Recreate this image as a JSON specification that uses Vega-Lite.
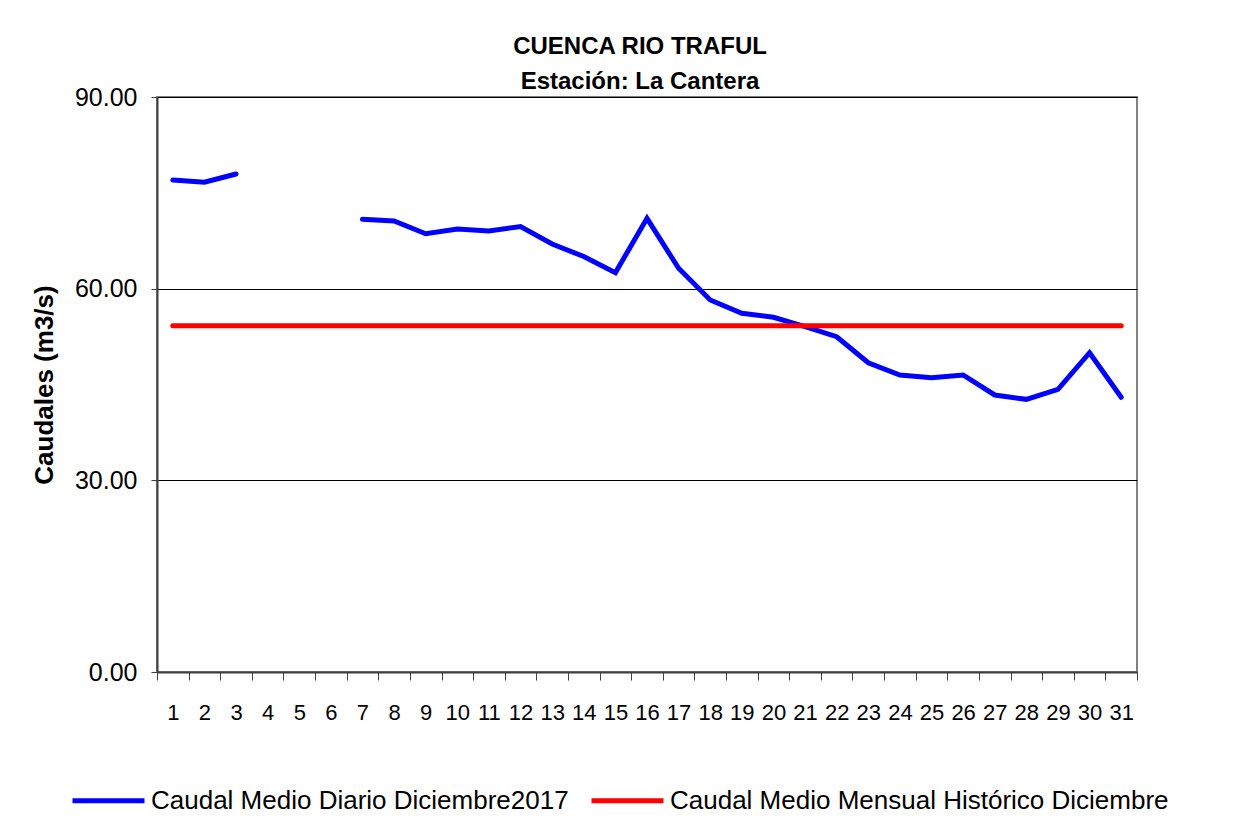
{
  "$schema": "https://vega.github.io/schema/vega-lite/v6.json",
  "width": 980,
  "height": 575,
  "autosize": {"type": "none"},
  "padding": {"left": 157, "top": 97, "right": 117, "bottom": 161},
  "background": "white",
  "title": {
    "text": "CUENCA RIO TRAFUL",
    "subtitle": "Estación: La Cantera",
    "anchor": "middle",
    "dx": -7,
    "font": "Liberation Sans",
    "fontSize": 24,
    "fontWeight": "bold",
    "color": "black",
    "subtitleFont": "Liberation Sans",
    "subtitleFontSize": 24,
    "subtitleFontWeight": "bold",
    "subtitleColor": "black",
    "subtitlePadding": 11,
    "offset": -9
  },
  "config": {
    "view": {"stroke": "#808080", "strokeWidth": 2},
    "font": "Liberation Sans"
  },
  "data": {
    "values": [
      {"day": 1, "serie": "Caudal Medio Diario Diciembre2017", "q": 77.0},
      {"day": 2, "serie": "Caudal Medio Diario Diciembre2017", "q": 76.65},
      {"day": 3, "serie": "Caudal Medio Diario Diciembre2017", "q": 77.95},
      {"day": 4, "serie": "Caudal Medio Diario Diciembre2017", "q": null},
      {"day": 5, "serie": "Caudal Medio Diario Diciembre2017", "q": null},
      {"day": 6, "serie": "Caudal Medio Diario Diciembre2017", "q": null},
      {"day": 7, "serie": "Caudal Medio Diario Diciembre2017", "q": 70.86},
      {"day": 8, "serie": "Caudal Medio Diario Diciembre2017", "q": 70.59},
      {"day": 9, "serie": "Caudal Medio Diario Diciembre2017", "q": 68.6},
      {"day": 10, "serie": "Caudal Medio Diario Diciembre2017", "q": 69.34},
      {"day": 11, "serie": "Caudal Medio Diario Diciembre2017", "q": 69.03},
      {"day": 12, "serie": "Caudal Medio Diario Diciembre2017", "q": 69.73},
      {"day": 13, "serie": "Caudal Medio Diario Diciembre2017", "q": 66.99},
      {"day": 14, "serie": "Caudal Medio Diario Diciembre2017", "q": 65.03},
      {"day": 15, "serie": "Caudal Medio Diario Diciembre2017", "q": 62.5},
      {"day": 16, "serie": "Caudal Medio Diario Diciembre2017", "q": 71.01},
      {"day": 17, "serie": "Caudal Medio Diario Diciembre2017", "q": 63.19},
      {"day": 18, "serie": "Caudal Medio Diario Diciembre2017", "q": 58.23},
      {"day": 19, "serie": "Caudal Medio Diario Diciembre2017", "q": 56.14},
      {"day": 20, "serie": "Caudal Medio Diario Diciembre2017", "q": 55.52},
      {"day": 21, "serie": "Caudal Medio Diario Diciembre2017", "q": 54.05},
      {"day": 22, "serie": "Caudal Medio Diario Diciembre2017", "q": 52.48},
      {"day": 23, "serie": "Caudal Medio Diario Diciembre2017", "q": 48.41},
      {"day": 24, "serie": "Caudal Medio Diario Diciembre2017", "q": 46.49},
      {"day": 25, "serie": "Caudal Medio Diario Diciembre2017", "q": 46.07},
      {"day": 26, "serie": "Caudal Medio Diario Diciembre2017", "q": 46.49},
      {"day": 27, "serie": "Caudal Medio Diario Diciembre2017", "q": 43.36},
      {"day": 28, "serie": "Caudal Medio Diario Diciembre2017", "q": 42.68},
      {"day": 29, "serie": "Caudal Medio Diario Diciembre2017", "q": 44.25},
      {"day": 30, "serie": "Caudal Medio Diario Diciembre2017", "q": 49.98},
      {"day": 31, "serie": "Caudal Medio Diario Diciembre2017", "q": 43.0},
      {"day": 1, "serie": "Caudal Medio Mensual Histórico Diciembre", "q": 54.2},
      {"day": 2, "serie": "Caudal Medio Mensual Histórico Diciembre", "q": 54.2},
      {"day": 3, "serie": "Caudal Medio Mensual Histórico Diciembre", "q": 54.2},
      {"day": 4, "serie": "Caudal Medio Mensual Histórico Diciembre", "q": 54.2},
      {"day": 5, "serie": "Caudal Medio Mensual Histórico Diciembre", "q": 54.2},
      {"day": 6, "serie": "Caudal Medio Mensual Histórico Diciembre", "q": 54.2},
      {"day": 7, "serie": "Caudal Medio Mensual Histórico Diciembre", "q": 54.2},
      {"day": 8, "serie": "Caudal Medio Mensual Histórico Diciembre", "q": 54.2},
      {"day": 9, "serie": "Caudal Medio Mensual Histórico Diciembre", "q": 54.2},
      {"day": 10, "serie": "Caudal Medio Mensual Histórico Diciembre", "q": 54.2},
      {"day": 11, "serie": "Caudal Medio Mensual Histórico Diciembre", "q": 54.2},
      {"day": 12, "serie": "Caudal Medio Mensual Histórico Diciembre", "q": 54.2},
      {"day": 13, "serie": "Caudal Medio Mensual Histórico Diciembre", "q": 54.2},
      {"day": 14, "serie": "Caudal Medio Mensual Histórico Diciembre", "q": 54.2},
      {"day": 15, "serie": "Caudal Medio Mensual Histórico Diciembre", "q": 54.2},
      {"day": 16, "serie": "Caudal Medio Mensual Histórico Diciembre", "q": 54.2},
      {"day": 17, "serie": "Caudal Medio Mensual Histórico Diciembre", "q": 54.2},
      {"day": 18, "serie": "Caudal Medio Mensual Histórico Diciembre", "q": 54.2},
      {"day": 19, "serie": "Caudal Medio Mensual Histórico Diciembre", "q": 54.2},
      {"day": 20, "serie": "Caudal Medio Mensual Histórico Diciembre", "q": 54.2},
      {"day": 21, "serie": "Caudal Medio Mensual Histórico Diciembre", "q": 54.2},
      {"day": 22, "serie": "Caudal Medio Mensual Histórico Diciembre", "q": 54.2},
      {"day": 23, "serie": "Caudal Medio Mensual Histórico Diciembre", "q": 54.2},
      {"day": 24, "serie": "Caudal Medio Mensual Histórico Diciembre", "q": 54.2},
      {"day": 25, "serie": "Caudal Medio Mensual Histórico Diciembre", "q": 54.2},
      {"day": 26, "serie": "Caudal Medio Mensual Histórico Diciembre", "q": 54.2},
      {"day": 27, "serie": "Caudal Medio Mensual Histórico Diciembre", "q": 54.2},
      {"day": 28, "serie": "Caudal Medio Mensual Histórico Diciembre", "q": 54.2},
      {"day": 29, "serie": "Caudal Medio Mensual Histórico Diciembre", "q": 54.2},
      {"day": 30, "serie": "Caudal Medio Mensual Histórico Diciembre", "q": 54.2},
      {"day": 31, "serie": "Caudal Medio Mensual Histórico Diciembre", "q": 54.2}
    ]
  },
  "mark": {"type": "line", "strokeWidth": 5, "strokeCap": "round", "invalid": "break-paths-show-domains"},
  "encoding": {
    "x": {
      "field": "day",
      "type": "quantitative",
      "scale": {"domain": [0.5, 31.5], "nice": false, "zero": false},
      "axis": {
        "title": null,
        "values": [0.5, 1.5, 2.5, 3.5, 4.5, 5.5, 6.5, 7.5, 8.5, 9.5, 10.5, 11.5, 12.5, 13.5, 14.5, 15.5, 16.5, 17.5, 18.5, 19.5, 20.5, 21.5, 22.5, 23.5, 24.5, 25.5, 26.5, 27.5, 28.5, 29.5, 30.5, 31.5],
        "labelExpr": "datum.value < 31 ? format(datum.value + 0.5, 'd') : ''",
        "labelOffset": 15.8,
        "labelFlush": false,
        "labelOverlap": false,
        "labelFont": "Liberation Sans",
        "labelFontSize": 22,
        "labelColor": "black",
        "labelPadding": 22,
        "tickSize": 8,
        "tickColor": "#404040",
        "domainColor": "#404040",
        "domainWidth": 2,
        "grid": false
      }
    },
    "y": {
      "field": "q",
      "type": "quantitative",
      "scale": {"domain": [0, 90], "nice": false},
      "axis": {
        "title": "Caudales (m3/s)",
        "titleFontSize": 26,
        "titleFontWeight": "bold",
        "titleColor": "black",
        "titlePadding": 17,
        "values": [0, 30, 60, 90],
        "format": ".2f",
        "labelFontSize": 25,
        "labelColor": "black",
        "labelPadding": 14,
        "tickSize": 6,
        "tickColor": "#404040",
        "domainColor": "#404040",
        "domainWidth": 2,
        "grid": true,
        "gridColor": "black",
        "gridWidth": 1,
        "gridOpacity": 1
      }
    },
    "color": {
      "field": "serie",
      "type": "nominal",
      "scale": {
        "domain": ["Caudal Medio Diario Diciembre2017", "Caudal Medio Mensual Histórico Diciembre"],
        "range": ["#0000FF", "#FF0000"]
      },
      "legend": {
        "title": null,
        "orient": "none",
        "direction": "horizontal",
        "legendX": -87,
        "legendY": 665,
        "symbolType": "stroke",
        "symbolSize": 5184,
        "symbolStrokeWidth": 5,
        "labelFontSize": 26,
        "labelColor": "black",
        "labelOffset": 4,
        "columnPadding": 12,
        "labelLimit": 700
      }
    }
  }
}
